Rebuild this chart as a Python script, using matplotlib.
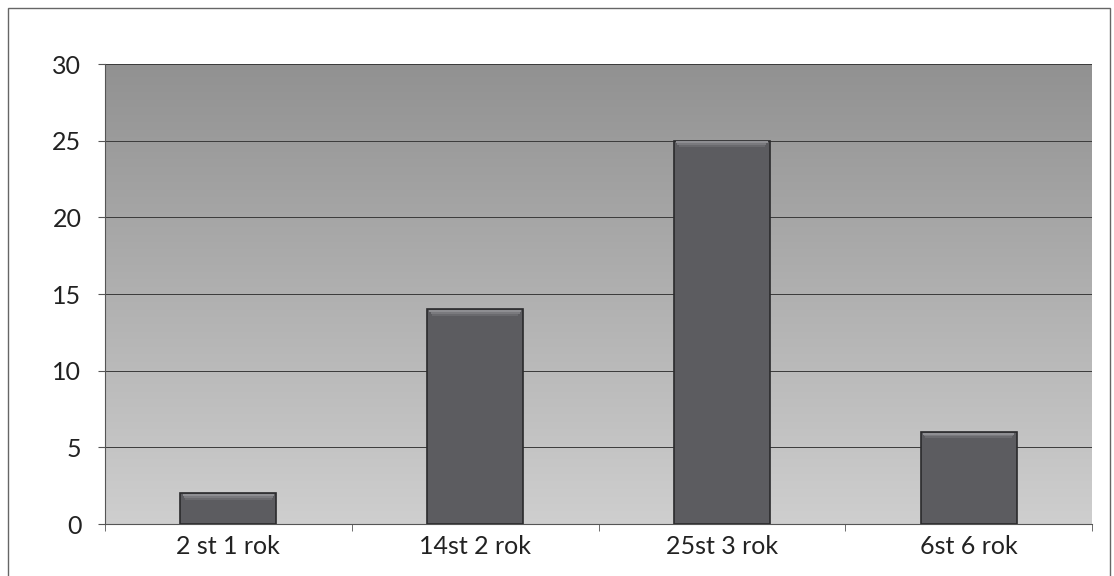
import numpy as np
import matplotlib.pyplot as plt
from matplotlib.patches import Rectangle

plt.rcParams['font.family'] = ['Lato', 'DejaVu Sans']

categories = ['2 st 1 rok', '14st 2 rok', '25st 3 rok', '6st 6 rok']
values = [2, 14, 25, 6]
yticks = [0, 5, 10, 15, 20, 25, 30]

W, H = 1114, 576
fig = plt.figure(figsize=(W / 100, H / 100), dpi=100)
fig.patch.set_facecolor('white')

# frame around the whole chart (cut at the bottom)
fig.patches.append(Rectangle((8 / W, -0.05), (1110 - 8) / W, (H - 8) / H + 0.05,
                             transform=fig.transFigure, fill=False,
                             edgecolor='#666666', linewidth=1.0))

ax = fig.add_axes([105 / W, (H - 524) / H, (1092 - 105) / W, (524 - 64) / H])

# grey vertical gradient background
g = np.linspace(0.57, 0.81, 256).reshape(-1, 1)
img = np.dstack([g, g, g])
ax.imshow(img, extent=[-0.5, 3.5, 0, 30], aspect='auto', origin='upper', zorder=0)

x = np.arange(len(categories))
ax.bar(x, values, width=0.39, color='#5c5c60', edgecolor='#2a2a2c',
       linewidth=1.2, zorder=3)
# soft bevel on bar tops
for i, v in enumerate(values):
    for k, c in enumerate(['#8e8e92', '#7a7a7e', '#6a6a6e']):
        ax.bar(x[i], 0.12, bottom=v - 0.12 * (k + 1) - 0.05, width=0.37 - 0.01 * k,
               color=c, linewidth=0, zorder=4)

ax.set_xlim(-0.5, 3.5)
ax.set_ylim(0, 30)
ax.set_yticks(yticks)
ax.set_xticks(x)
ax.set_xticklabels(categories)
ax.set_xticks(np.arange(-0.5, 4, 1), minor=True)
ax.tick_params(axis='x', which='major', length=0, pad=8, labelsize=18, colors='#222222')
ax.tick_params(axis='x', which='minor', length=5, color='#555555')
ax.tick_params(axis='y', length=5, pad=12, labelsize=18, colors='#222222', color='#555555')
ax.yaxis.grid(True, color='#3a3a3a', linewidth=0.7, zorder=1)
ax.set_axisbelow(True)
for s in ['top', 'right']:
    ax.spines[s].set_visible(False)
ax.spines['left'].set_color('#555555')
ax.spines['bottom'].set_color('#555555')

fig.savefig('out.png', dpi=100)
